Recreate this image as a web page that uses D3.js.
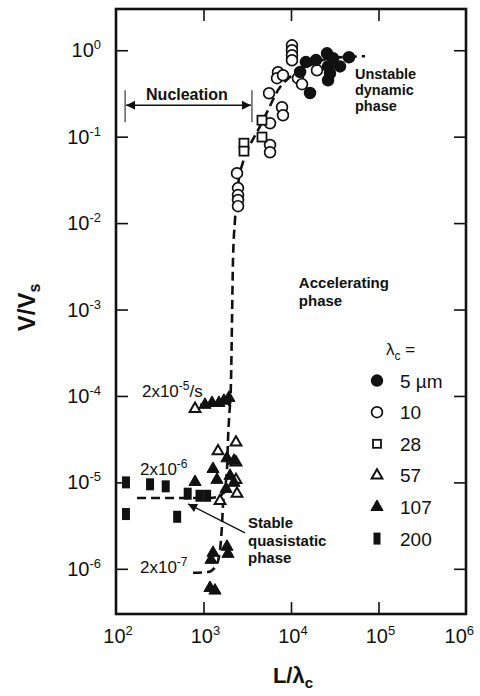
<!DOCTYPE html>
<html>
<head>
<meta charset="utf-8">
<script src="https://cdn.jsdelivr.net/npm/d3@7"></script>
<style>
body { margin: 0; background: #fff; }
text { font-family: "Liberation Sans", Arial, Helvetica, sans-serif; fill: #111; }
</style>
</head>
<body>
<div id="chart"></div>
<script>
// ......................
// Data
var xTicks = [1e2, 1e3, 1e4, 1e5, 1e6];
var xTickExp = ["2", "3", "4", "5", "6"];
var yTicks = [1e0, 1e-1, 1e-2, 1e-3, 1e-4, 1e-5, 1e-6];
var yTickExp = ["0", "-1", "-2", "-3", "-4", "-5", "-6"];

var legendLabels = ["5 µm", "10", "28", "57", "107", "200"];

// lambda_c = 5 um (filled circles)
var s5x = [14800, 19300, 25800, 30200, 46000, 26500, 27900, 26500, 16500, 12700, 36300];
var s5y = [0.73, 0.77, 0.92, 0.81, 0.83, 0.65, 0.54, 0.45, 0.32, 0.56, 0.65];

// lambda_c = 10 (open circles)
var s10x = [10260, 10260, 10260, 10260, 7100, 6920, 8100, 12000, 13360, 19800, 5610, 7890, 8100, 5760, 5760, 5760, 2415, 2480, 2480, 2480, 2480];
var s10y = [1.14, 1.0, 0.875, 0.766, 0.557, 0.475, 0.514, 0.475, 0.405, 0.587, 0.318, 0.219, 0.177, 0.143, 0.080, 0.066, 0.0378, 0.0254, 0.0211, 0.0185, 0.0157];

// lambda_c = 28 (open squares)
var s28x = [4660, 4660, 2900, 2900];
var s28y = [0.155, 0.099, 0.084, 0.068];

// lambda_c = 57 (open triangles)
var s57x = [800, 1465, 2350, 2350, 2350, 2415, 1545];
var s57y = [7.1e-5, 2.3e-5, 2.9e-5, 1.7e-5, 1.07e-5, 7.4e-6, 6.1e-6];

// lambda_c = 107 (filled triangles)
var s107x = [1040, 1250, 1500, 1710, 1950,
             800, 1285, 1425, 1855, 2010, 2230, 2230, 1810,
             1219, 1285, 1855, 1905, 1186, 1353];
var s107y = [7.9e-5, 8.3e-5, 8.3e-5, 8.8e-5, 9.5e-5,
             1.01e-5, 1.43e-5, 1.07e-5, 1.9e-5, 1.19e-5, 1.78e-5, 9.9e-6, 8.4e-6,
             1.27e-6, 1.53e-6, 1.8e-6, 1.49e-6, 6.0e-7, 5.6e-7];

// lambda_c = 200 (filled rectangles)
var s200x = [130, 245, 370, 130, 500, 660, 900, 1100];
var s200y = [1.0e-5, 9.5e-6, 9e-6, 4.3e-6, 4e-6, 7.4e-6, 7e-6, 7e-6];

// dashed model curves (load point velocities)
var curveAx = [912, 1500, 2010, 2063, 2118, 2173, 2290, 2480, 2825, 3400, 4200, 5320, 7100, 10260, 16500, 27900, 70200];
var curveAy = [7.9e-5, 7.9e-5, 7.9e-5, 1.53e-4, 7.6e-4, 3.7e-3, 0.0108, 0.0275, 0.0507, 0.08, 0.119, 0.192, 0.345, 0.514, 0.671, 0.808, 0.853];
var curveBx = [174, 1185, 1465, 1715, 1855, 1905, 1955, 2010];
var curveBy = [6.6e-6, 6.6e-6, 6.8e-6, 7.8e-6, 1.4e-5, 3.1e-5, 5.3e-5, 7.9e-5];
var curveCx = [759, 1125, 1390, 1545, 1627, 1670, 1715];
var curveCy = [9e-7, 9.2e-7, 1.08e-6, 1.66e-6, 3.2e-6, 5.5e-6, 7.8e-6];

// ......................
// SVG area
var svgWidth = 480;
var svgHeight = 696;
var margin = { top: 9, right: 14, bottom: 82, left: 116 };
var width = svgWidth - margin.left - margin.right;
var height = svgHeight - margin.top - margin.bottom;

var svg = d3.select("#chart")
    .append("svg")
    .attr("width", svgWidth)
    .attr("height", svgHeight);

var g = svg.append("g")
    .attr("transform", `translate(${margin.left}, ${margin.top})`);

var x = d3.scaleLog().domain([1e2, 1e6]).range([0, width]);
var y = d3.scaleLog().domain([3e-7, 3]).range([height, 0]);

// ......................
// Axes (inward ticks on all four sides)
var tickLen = 12;
var axisStyle = function(sel) {
    sel.select(".domain").remove();
    sel.selectAll(".tick line").attr("stroke", "#111").attr("stroke-width", 1.6);
    sel.selectAll(".tick text").remove();
};
g.append("g").attr("transform", `translate(0, ${height})`)
    .call(d3.axisBottom(x).tickValues(xTicks.slice(1, 4)).tickSize(-tickLen)).call(axisStyle);
g.append("g")
    .call(d3.axisTop(x).tickValues(xTicks.slice(1, 4)).tickSize(-tickLen)).call(axisStyle);
g.append("g")
    .call(d3.axisLeft(y).tickValues(yTicks).tickSize(-tickLen)).call(axisStyle);
g.append("g").attr("transform", `translate(${width}, 0)`)
    .call(d3.axisRight(y).tickValues(yTicks).tickSize(-tickLen)).call(axisStyle);

// frame
g.append("rect")
    .attr("width", width).attr("height", height)
    .attr("fill", "none").attr("stroke", "#111").attr("stroke-width", 2.6);

// tick labels
xTicks.forEach(function(v, i) {
    var last = i === xTicks.length - 1;
    var t = g.append("text")
        .attr("x", last ? x(v) + 8 : x(v) + 2).attr("y", height + 29)
        .attr("text-anchor", last ? "end" : "middle")
        .attr("font-size", 20);
    t.append("tspan").text("10");
    t.append("tspan").attr("font-size", 13).attr("dy", -8).text(xTickExp[i]);
});
yTicks.forEach(function(v, i) {
    var t = g.append("text")
        .attr("x", -15).attr("y", y(v) + 7)
        .attr("text-anchor", "end")
        .attr("font-size", 20);
    t.append("tspan").text("10");
    t.append("tspan").attr("font-size", 13).attr("dy", -8).text(yTickExp[i]);
});

// axis titles
var yTitle = svg.append("text")
    .attr("transform", `translate(35, ${margin.top + height / 2 - 4}) rotate(-90)`)
    .attr("text-anchor", "middle")
    .attr("font-size", 24).attr("font-weight", "bold");
yTitle.append("tspan").text("V/V");
yTitle.append("tspan").attr("font-size", 16).attr("dy", 5).text("s");

var xTitle = svg.append("text")
    .attr("x", margin.left + width / 2 + 2).attr("y", 683)
    .attr("text-anchor", "middle")
    .attr("font-size", 22).attr("font-weight", "bold");
xTitle.append("tspan").text("L/λ");
xTitle.append("tspan").attr("font-size", 15).attr("dy", 5).text("c");

// ......................
// Dashed curves
var line = d3.line()
    .x(function(d) { return x(d[0]); })
    .y(function(d) { return y(d[1]); })
    .curve(d3.curveMonotoneX);

[[curveAx, curveAy], [curveBx, curveBy], [curveCx, curveCy]].forEach(function(c) {
    g.append("path")
        .datum(d3.zip(c[0], c[1]))
        .attr("d", line)
        .attr("fill", "none")
        .attr("stroke", "#111")
        .attr("stroke-width", 2.6)
        .attr("stroke-dasharray", "9,5");
});

// ......................
// Markers
var triOpen = d3.symbol().type(d3.symbolTriangle).size(50);
var triFill = d3.symbol().type(d3.symbolTriangle).size(64);

function drawSeries(xs, ys, kind) {
    var pts = d3.zip(xs, ys);
    var sel = g.selectAll(null).data(pts).enter();
    if (kind === "circleFill" || kind === "circleOpen") {
        sel.append("circle")
            .attr("cx", function(d) { return x(d[0]); })
            .attr("cy", function(d) { return y(d[1]); })
            .attr("r", 5.4)
            .attr("fill", kind === "circleFill" ? "#111" : "#fff")
            .attr("stroke", "#111").attr("stroke-width", 1.7);
    } else if (kind === "square") {
        sel.append("rect")
            .attr("x", function(d) { return x(d[0]) - 4.5; })
            .attr("y", function(d) { return y(d[1]) - 4.5; })
            .attr("width", 9).attr("height", 9)
            .attr("fill", "#fff").attr("stroke", "#111").attr("stroke-width", 1.8);
    } else if (kind === "triOpen" || kind === "triFill") {
        sel.append("path")
            .attr("d", kind === "triOpen" ? triOpen : triFill)
            .attr("transform", function(d) { return `translate(${x(d[0])}, ${y(d[1])})`; })
            .attr("fill", kind === "triOpen" ? "#fff" : "#111")
            .attr("stroke", "#111").attr("stroke-width", kind === "triOpen" ? 2 : 1);
    } else if (kind === "rectFill") {
        sel.append("rect")
            .attr("x", function(d) { return x(d[0]) - 4; })
            .attr("y", function(d) { return y(d[1]) - 6; })
            .attr("width", 8).attr("height", 12)
            .attr("fill", "#111");
    }
}

drawSeries(s10x, s10y, "circleOpen");
drawSeries(s28x, s28y, "square");
drawSeries(s5x, s5y, "circleFill");
drawSeries(s57x, s57y, "triOpen");
drawSeries(s107x, s107y, "triFill");
drawSeries(s200x, s200y, "rectFill");

// ......................
// Annotations
svg.append("defs").append("marker")
    .attr("id", "arrow").attr("viewBox", "0 0 10 10")
    .attr("refX", 10).attr("refY", 5)
    .attr("markerWidth", 14).attr("markerHeight", 9)
    .attr("markerUnits", "userSpaceOnUse")
    .attr("orient", "auto-start-reverse")
    .append("path").attr("d", "M0,0 L10,5 L0,10 Z").attr("fill", "#111");

// Nucleation span
var nucY = y(0.231);
g.append("line")
    .attr("x1", x(127) + 1).attr("x2", x(3580) - 1)
    .attr("y1", nucY).attr("y2", nucY)
    .attr("stroke", "#111").attr("stroke-width", 1.4)
    .attr("marker-start", "url(#arrow)").attr("marker-end", "url(#arrow)");
[127, 3580].forEach(function(v) {
    g.append("line")
        .attr("x1", x(v)).attr("x2", x(v))
        .attr("y1", nucY - 15).attr("y2", nucY + 17)
        .attr("stroke", "#111").attr("stroke-width", 1);
});
g.append("text")
    .attr("x", x(647)).attr("y", y(0.264))
    .attr("text-anchor", "middle")
    .attr("font-size", 16).attr("font-weight", "bold")
    .text("Nucleation");

function label(lines, vx, vys, size, weight) {
    lines.forEach(function(s, i) {
        g.append("text")
            .attr("x", x(vx)).attr("y", y(vys[i]))
            .attr("font-size", size).attr("font-weight", weight)
            .text(s);
    });
}
label(["Unstable", "dynamic", "phase"], 53800, [0.462, 0.302, 0.197], 14.5, "bold");
label(["Accelerating", "phase"], 12300, [1.77e-3, 1.1e-3], 15, "bold");
label(["Stable", "quasistatic", "phase"], 3230, [2.98e-6, 1.86e-6, 1.16e-6], 15, "bold");

// arrow towards the quasistatic points
g.append("line")
    .attr("x1", x(2980)).attr("y1", y(2.6e-6))
    .attr("x2", x(665)).attr("y2", y(5.64e-6))
    .attr("stroke", "#111").attr("stroke-width", 1.3)
    .attr("marker-end", "url(#arrow)");

// loading rate labels
function rateLabel(vx, vy, exp, tail) {
    var t = g.append("text").attr("x", x(vx)).attr("y", y(vy)).attr("font-size", 17);
    t.append("tspan").text("2x10");
    t.append("tspan").attr("font-size", 12).attr("dy", -7).text(exp);
    if (tail) t.append("tspan").attr("dy", 7).text(tail);
}
rateLabel(198, 9.7e-5, "-5", "/s");
rateLabel(188, 1.22e-5, "-6", "");
rateLabel(188, 9e-7, "-7", "");

// ......................
// Legend
var legX = 377;
var legTextX = 400;
var legY0 = 349;
var legStep = 31.6;

var head = svg.append("text").attr("x", 386).attr("y", legY0 + 6).attr("font-size", 17);
head.append("tspan").text("λ");
head.append("tspan").attr("font-size", 12).attr("dy", 5).text("c");
head.append("tspan").attr("dy", -5).text(" =");

var legKinds = ["circleFill", "circleOpen", "square", "triOpen", "triFill", "rectFill"];
legendLabels.forEach(function(lab, i) {
    var cy = legY0 + legStep * (i + 1);
    var k = legKinds[i];
    if (k === "circleFill" || k === "circleOpen") {
        svg.append("circle").attr("cx", legX).attr("cy", cy).attr("r", 5.4)
            .attr("fill", k === "circleFill" ? "#111" : "#fff")
            .attr("stroke", "#111").attr("stroke-width", 1.7);
    } else if (k === "square") {
        svg.append("rect").attr("x", legX - 4).attr("y", cy - 4).attr("width", 8).attr("height", 8)
            .attr("fill", "#fff").attr("stroke", "#111").attr("stroke-width", 1.8);
    } else if (k === "triOpen" || k === "triFill") {
        svg.append("path").attr("d", k === "triOpen" ? triOpen : triFill)
            .attr("transform", `translate(${legX}, ${cy})`)
            .attr("fill", k === "triOpen" ? "#fff" : "#111")
            .attr("stroke", "#111").attr("stroke-width", k === "triOpen" ? 2 : 1);
    } else {
        svg.append("rect").attr("x", legX - 3.5).attr("y", cy - 6).attr("width", 7).attr("height", 12)
            .attr("fill", "#111");
    }
    svg.append("text").attr("x", legTextX).attr("y", cy + 7)
        .attr("font-size", 19).text(lab);
});
</script>
</body>
</html>
